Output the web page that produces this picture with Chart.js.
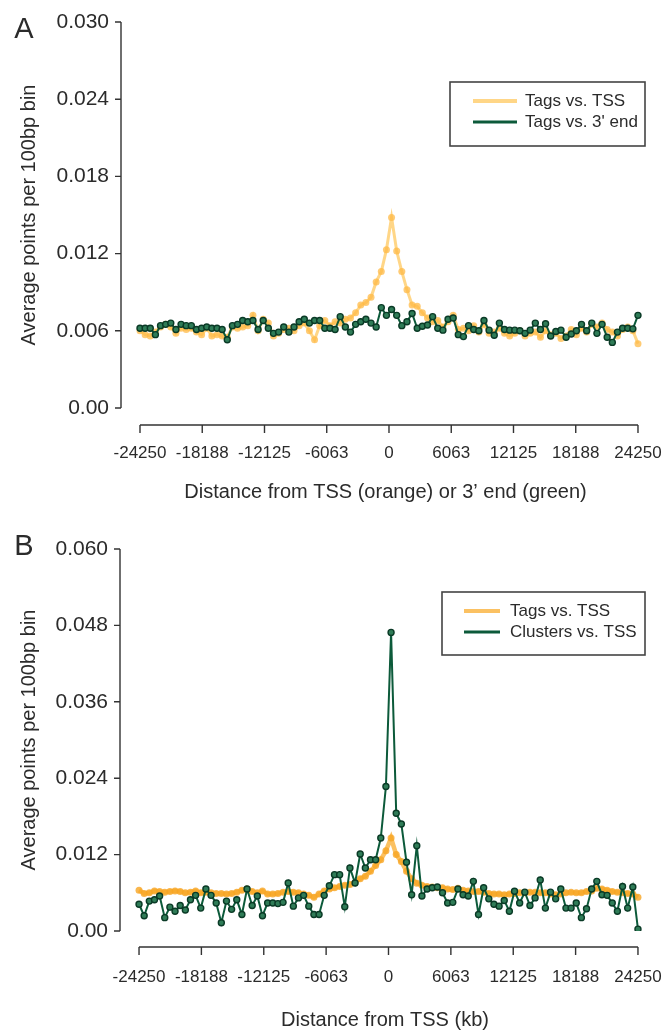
<!DOCTYPE html>
<html>
<head>
<meta charset="utf-8">
<script src="https://cdn.jsdelivr.net/npm/chart.js@4.4.1/dist/chart.umd.min.js"></script>
<style>
  body { margin: 0; background: #fff; }
  .panel { position: absolute; left: 0; width: 666px; height: 517px; }
</style>
</head>
<body>
<div class="panel" style="top:0"><canvas id="chartA"></canvas></div>
<div class="panel" style="top:517px"><canvas id="chartB"></canvas></div>
<script>
// bin centres, bp from TSS / 3' end
const positions = [-24250,-23750,-23250,-22750,-22250,-21750,-21250,-20750,-20250,-19750,
  -19250,-18750,-18250,-17750,-17250,-16750,-16250,-15750,-15250,-14750,
  -14250,-13750,-13250,-12750,-12250,-11750,-11250,-10750,-10250,-9750,
  -9250,-8750,-8250,-7750,-7250,-6750,-6250,-5750,-5250,-4750,
  -4250,-3750,-3250,-2750,-2250,-1750,-1250,-750,-250,250,
  750,1250,1750,2250,2750,3250,3750,4250,4750,5250,
  5750,6250,6750,7250,7750,8250,8750,9250,9750,10250,
  10750,11250,11750,12250,12750,13250,13750,14250,14750,15250,
  15750,16250,16750,17250,17750,18250,18750,19250,19750,20250,
  20750,21250,21750,22250,22750,23250,23750,24250];

const xTicks = [-24250, -18188, -12125, -6063, 0, 6063, 12125, 18188, 24250];
const yTicksA = [0, 0.006, 0.012, 0.018, 0.024, 0.030];
const yLabelsA = ['0.00', '0.006', '0.012', '0.018', '0.024', '0.030'];
const yTicksB = [0, 0.012, 0.024, 0.036, 0.048, 0.060];
const yLabelsB = ['0.00', '0.012', '0.024', '0.036', '0.048', '0.060'];

// panel A
const tagsTssA = [0.0060,0.0057,0.0056,0.0059,0.0063,0.0065,0.0063,0.0058,0.0062,0.0061,
  0.0062,0.0059,0.0057,0.0062,0.0056,0.0057,0.0056,0.0055,0.0063,0.0062,
  0.0063,0.0064,0.0072,0.0060,0.0069,0.0066,0.0056,0.0058,0.0061,0.0062,
  0.0060,0.0064,0.0066,0.0060,0.0053,0.0064,0.0068,0.0064,0.0067,0.0066,
  0.0069,0.0070,0.0074,0.0080,0.0082,0.0086,0.0098,0.0106,0.0123,0.0148,
  0.0122,0.0106,0.0092,0.0080,0.0079,0.0074,0.0070,0.0067,0.0068,0.0063,
  0.0067,0.0072,0.0061,0.0062,0.0060,0.0064,0.0059,0.0065,0.0058,0.0059,
  0.0062,0.0058,0.0056,0.0058,0.0060,0.0056,0.0058,0.0059,0.0055,0.0060,
  0.0057,0.0058,0.0054,0.0056,0.0061,0.0057,0.0062,0.0059,0.0065,0.0063,
  0.0066,0.0061,0.0059,0.0056,0.0061,0.0063,0.0060,0.0050];
const tags3EndA = [0.0062,0.0062,0.0062,0.0057,0.0064,0.0065,0.0066,0.0061,0.0065,0.0064,
  0.0064,0.0061,0.0062,0.0063,0.0062,0.0062,0.0061,0.0053,0.0064,0.0065,
  0.0068,0.0067,0.0068,0.0061,0.0068,0.0062,0.0058,0.0059,0.0063,0.0059,
  0.0063,0.0067,0.0069,0.0066,0.0068,0.0068,0.0062,0.0062,0.0061,0.0071,
  0.0063,0.0059,0.0065,0.0067,0.0069,0.0066,0.0063,0.0078,0.0072,0.00765,
  0.0072,0.0064,0.0067,0.00735,0.0062,0.00635,0.00645,0.0071,0.0062,0.00605,
  0.0069,0.0070,0.0057,0.00555,0.0064,0.0061,0.0060,0.0068,0.00605,0.00565,
  0.0066,0.0061,0.00605,0.00605,0.0060,0.0058,0.00605,0.0066,0.0061,0.00655,
  0.0056,0.00595,0.00605,0.0055,0.00575,0.0060,0.0065,0.0060,0.0066,0.0058,
  0.0065,0.0055,0.0051,0.0059,0.0062,0.0062,0.00615,0.0072];

// panel B
const tagsTssB = [0.0064,0.0059,0.0060,0.0063,0.0062,0.0061,0.0062,0.0063,0.0062,0.0060,
  0.0061,0.0063,0.0060,0.0061,0.0060,0.0059,0.0059,0.0058,0.0059,0.0061,
  0.0064,0.0066,0.0062,0.0060,0.0063,0.0058,0.0058,0.0059,0.0061,0.0062,
  0.0061,0.0060,0.0058,0.0056,0.0053,0.0058,0.0063,0.0066,0.0068,0.0070,
  0.0072,0.0073,0.0076,0.0082,0.0086,0.0094,0.0103,0.0112,0.0126,0.0146,
  0.0120,0.0109,0.0094,0.0082,0.0075,0.0072,0.0070,0.0069,0.0068,0.0068,
  0.0066,0.0065,0.0067,0.0064,0.0063,0.0062,0.0062,0.0061,0.0059,0.0058,
  0.0058,0.0057,0.0058,0.0059,0.0060,0.0060,0.0061,0.0061,0.0060,0.0060,
  0.0058,0.0057,0.0058,0.0060,0.0061,0.0060,0.0060,0.0062,0.0063,0.0067,
  0.0066,0.0064,0.0062,0.0061,0.0060,0.0059,0.0058,0.0053];
const clustersTssB = [0.0042,0.0024,0.0047,0.0049,0.0055,0.0021,0.00375,0.0031,0.0040,0.0033,
  0.0049,0.0056,0.0036,0.0066,0.0056,0.0044,0.0013,0.0047,0.0034,0.0049,
  0.0026,0.0066,0.0040,0.0055,0.0024,0.0044,0.0044,0.0043,0.0045,0.00755,
  0.0039,0.0052,0.0056,0.0039,0.0026,0.0026,0.0056,0.0071,0.00885,0.00885,
  0.0038,0.0099,0.00755,0.0121,0.0099,0.0112,0.0112,0.0146,0.0227,0.0469,
  0.0185,0.0168,0.0108,0.0057,0.0134,0.0055,0.0066,0.0068,0.0069,0.0060,
  0.0044,0.0045,0.0066,0.0057,0.0055,0.0078,0.0026,0.0068,0.00505,0.0042,
  0.0039,0.0048,0.0031,0.00625,0.0044,0.0061,0.0040,0.0052,0.0080,0.0036,
  0.0061,0.00505,0.0066,0.0036,0.0036,0.0044,0.0021,0.0035,0.0066,0.0078,
  0.0057,0.0056,0.0044,0.0031,0.0070,0.0036,0.0069,0.0003];

const ink = '#2b2b2b';
const fontFamily = '"Liberation Sans", Arial, Helvetica, sans-serif';

// axes drawn R-style: y line only from 0 to max, x line only between outer ticks
const paperAxes = {
  id: 'paperAxes',
  afterDraw(chart, args, opts) {
    const ctx = chart.ctx;
    const area = chart.chartArea;
    const xs = chart.scales.x, ys = chart.scales.y;
    ctx.save();
    ctx.strokeStyle = '#333';
    ctx.lineWidth = 1.4;

    const ax = area.left;
    ctx.beginPath();
    ctx.moveTo(ax, ys.getPixelForValue(ys.max));
    ctx.lineTo(ax, ys.getPixelForValue(0));
    ys.ticks.forEach(t => {
      const py = ys.getPixelForValue(t.value);
      ctx.moveTo(ax - 6, py);
      ctx.lineTo(ax, py);
    });
    ctx.stroke();

    const by = area.bottom + opts.gap;
    ctx.beginPath();
    ctx.moveTo(xs.getPixelForValue(xTicks[0]), by);
    ctx.lineTo(xs.getPixelForValue(xTicks[xTicks.length - 1]), by);
    xTicks.forEach(v => {
      const px = xs.getPixelForValue(v);
      ctx.moveTo(px, by);
      ctx.lineTo(px, by + 8);
    });
    ctx.stroke();

    // panel letter
    ctx.fillStyle = ink;
    ctx.font = '29px ' + fontFamily;
    ctx.textAlign = 'center';
    ctx.textBaseline = 'middle';
    ctx.fillText(opts.letter, 24, 30);

    // boxed legend
    const lg = opts.legend;
    ctx.strokeStyle = '#444';
    ctx.lineWidth = 1.6;
    ctx.strokeRect(lg.left, lg.top, lg.right - lg.left, lg.bottom - lg.top);
    ctx.font = '17px ' + fontFamily;
    ctx.textAlign = 'left';
    chart.data.datasets.forEach((ds, i) => {
      const ry = lg.rows[i];
      ctx.strokeStyle = ds.legendColor;
      ctx.lineWidth = ds.legendWidth;
      ctx.beginPath();
      ctx.moveTo(lg.sample[0], ry);
      ctx.lineTo(lg.sample[1], ry);
      ctx.stroke();
      ctx.fillStyle = ink;
      ctx.fillText(ds.label, lg.textX, ry);
    });
    ctx.restore();
  }
};

function makeChart(id, cfg) {
  const ctx = document.getElementById(id).getContext('2d');
  return new Chart(ctx, {
    type: 'line',
    data: {
      datasets: [
        {
          label: cfg.greenLabel,
          data: positions.map((p, i) => ({x: p, y: cfg.green[i]})),
          borderColor: '#0c5a3a',
          borderWidth: 2,
          pointRadius: 3,
          pointBackgroundColor: '#2f7c57',
          pointBorderColor: '#0a3a26',
          pointBorderWidth: 1.4,
          legendColor: '#0c5a3a',
          legendWidth: 3,
          order: 1
        },
        {
          label: cfg.orangeLabel,
          data: positions.map((p, i) => ({x: p, y: cfg.orange[i]})),
          borderColor: cfg.orangeLine,
          borderWidth: cfg.orangeWidth,
          pointRadius: 3.5,
          pointBackgroundColor: cfg.orangeDot,
          pointBorderWidth: 0,
          legendColor: cfg.orangeLine,
          legendWidth: 4,
          order: 2
        }
      ]
    },
    options: {
      responsive: true,
      maintainAspectRatio: false,
      animation: false,
      events: [],
      layout: { padding: { top: cfg.top, right: 16, bottom: 0, left: 0 } },
      scales: {
        x: {
          type: 'linear',
          min: -26100,
          max: 25420,
          grid: { display: false, drawTicks: false },
          border: { display: false },
          afterBuildTicks: s => { s.ticks = xTicks.map(v => ({value: v})); },
          afterFit: s => { s.height = cfg.xHeight; s.paddingLeft = 0; s.paddingRight = 0; },
          ticks: {
            autoSkip: false,
            maxRotation: 0,
            padding: cfg.xLabelPad,
            color: ink,
            font: { family: fontFamily, size: 17 },
            callback: v => String(v)
          },
          title: {
            display: true,
            text: cfg.xTitle,
            color: ink,
            font: { family: fontFamily, size: 20 },
            padding: { top: 0, bottom: cfg.xTitlePad }
          }
        },
        y: {
          min: 0,
          max: cfg.yMax,
          grid: { display: false, drawTicks: false },
          border: { display: false },
          afterBuildTicks: s => { s.ticks = cfg.yTicks.map(v => ({value: v})); },
          afterFit: s => { s.width = cfg.axisX; s.paddingTop = 0; s.paddingBottom = 0; },
          ticks: {
            padding: 12,
            color: ink,
            font: { family: fontFamily, size: 21 },
            callback: (v, i) => cfg.yLabels[i]
          },
          title: {
            display: true,
            text: 'Average points per 100bp bin',
            color: ink,
            font: { family: fontFamily, size: 20 },
            padding: { top: 17, bottom: 0 }
          }
        }
      },
      plugins: {
        legend: { display: false },
        tooltip: { enabled: false },
        paperAxes: { gap: cfg.gap, letter: cfg.letter, legend: cfg.legend }
      }
    },
    plugins: [paperAxes]
  });
}

makeChart('chartA', {
  letter: 'A',
  green: tags3EndA, greenLabel: "Tags vs. 3' end",
  orange: tagsTssA, orangeLabel: 'Tags vs. TSS',
  orangeLine: 'rgba(255,200,95,0.75)', orangeDot: 'rgba(255,185,70,0.75)', orangeWidth: 3,
  yMax: 0.030, yTicks: yTicksA, yLabels: yLabelsA,
  top: 22, axisX: 121, xHeight: 109, xLabelPad: 35, xTitlePad: 13, gap: 17,
  xTitle: "Distance from TSS (orange) or 3\u2019 end (green)",
  legend: { left: 450, top: 82, right: 645, bottom: 146, rows: [122, 101], sample: [473, 517], textX: 525 }
});

makeChart('chartB', {
  letter: 'B',
  green: clustersTssB, greenLabel: 'Clusters vs. TSS',
  orange: tagsTssB, orangeLabel: 'Tags vs. TSS',
  orangeLine: 'rgba(250,172,45,0.75)', orangeDot: 'rgba(248,165,35,0.8)', orangeWidth: 4.5,
  yMax: 0.060, yTicks: yTicksB, yLabels: yLabelsB,
  top: 32, axisX: 120, xHeight: 103, xLabelPad: 36, xTitlePad: 2, gap: 16,
  xTitle: 'Distance from TSS (kb)',
  legend: { left: 442, top: 75, right: 645, bottom: 138, rows: [115, 94], sample: [464, 500], textX: 510 }
});
</script>
</body>
</html>
